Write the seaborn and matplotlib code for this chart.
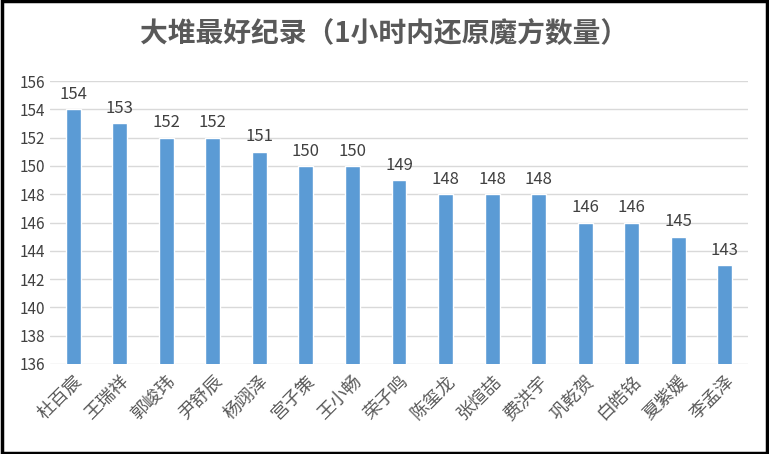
import matplotlib
matplotlib.use("Agg")
import matplotlib.pyplot as plt
import seaborn as sns
import pandas as pd

names = ["杜百宸","王瑞祥","郭峻玮","尹舒辰","杨翊泽","宫子策","王小畅","荣子鸣","陈玺龙","张煊喆","费洪宇","巩乾贺","白皓铭","夏紫媛","李孟泽"]
values = [154,153,152,152,151,150,150,149,148,148,148,146,146,145,143]
yticks = list(range(136, 157, 2))

sns.set_theme(style="white")
plt.rcParams['font.family'] = ['Noto Sans CJK SC', 'DejaVu Sans']

fig = plt.figure(figsize=(7.69, 4.54), dpi=100)
ax = fig.add_axes([50/769, 1-364/454, (748-50)/769, (364-81)/454])
df = pd.DataFrame({"name": names, "value": values})
sns.barplot(data=df, x="name", y="value", color="#5B9BD5", width=0.32, ax=ax, saturation=1)
ax.set_ylim(136, 156)
ax.set_yticks(yticks)
ax.set_yticklabels([str(t) for t in yticks], fontsize=11, color="#404040")
ax.grid(axis="y", color="#D9D9D9", lw=1)
ax.set_axisbelow(True)
for s in ax.spines.values():
    s.set_visible(False)
ax.tick_params(axis="both", length=0)
ax.tick_params(axis="x", pad=6)
ax.set_xlabel(""); ax.set_ylabel("")
ax.set_xticks(range(len(names)))
ax.set_xticklabels(names, rotation=45, ha="right", rotation_mode="anchor", fontsize=13, color="#595959")
for i, v in enumerate(values):
    ax.text(i, v + 0.45, str(v), ha="center", va="bottom", fontsize=12, color="#404040")
fig.text(0.5, 1-35/454, "大堆最好纪录（1小时内还原魔方数量）", ha="center", va="center",
         fontsize=20, fontweight="bold", color="#595959")
fig.patches.append(plt.Rectangle((0.002, 0.003), 0.996, 0.994, transform=fig.transFigure,
                                 fill=False, edgecolor="black", lw=2.5))
fig.savefig("out.png", dpi=100)
